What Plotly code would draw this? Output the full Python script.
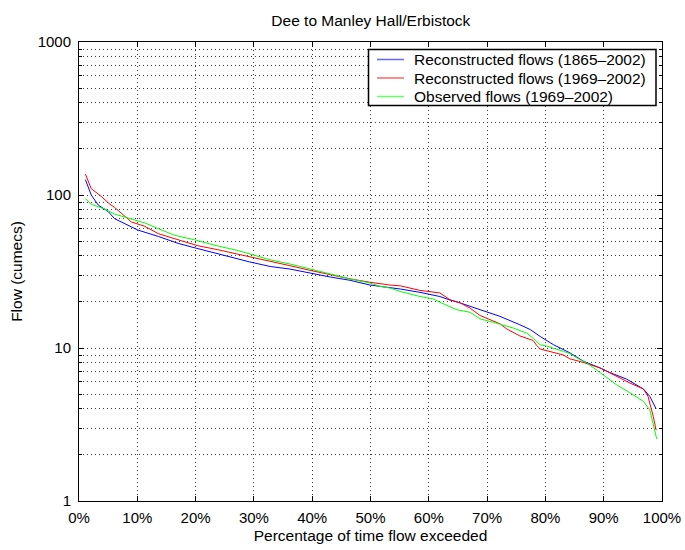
import plotly.graph_objects as go

# Flow duration curves, Dee to Manley Hall/Erbistock
pct_recon_long = [1.1, 2.1, 3.3, 5.0, 6.1, 8.4, 10.1, 13.6, 17.0, 20.4, 23.8, 27.3, 29.3, 32.8,
                  36.2, 39.6, 43.1, 46.5, 49.9, 51.6, 53.3, 55.1, 58.5, 61.9, 63.6, 65.4, 68.8,
                  72.2, 75.6, 77.4, 79.1, 81.4, 84.2, 86.5, 89.4, 91.1, 93.9, 96.8, 97.9, 99.0]
flow_recon_long = [126, 100, 86, 78, 70, 63, 59, 53.6, 48.3, 44.6, 41.1, 38.2, 36.5, 34.1,
                   32.8, 30.9, 29.1, 27.7, 25.8, 25.3, 24.9, 24.3, 23.1, 21.7, 20.6, 19.7, 17.8,
                   16.1, 14.2, 13.2, 11.9, 10.5, 9.3, 8.2, 7.4, 6.9, 6.27, 5.4, 4.83, 4.0]

pct_recon_short = [1.1, 2.1, 3.8, 5.3, 6.1, 7.8, 9.0, 11.3, 13.6, 17.0, 20.4, 23.8, 27.3, 29.3,
                   32.8, 36.2, 39.6, 43.1, 46.5, 49.9, 51.6, 53.3, 55.1, 58.5, 61.9, 63.6, 65.4,
                   67.1, 68.8, 72.2, 73.4, 75.6, 77.9, 78.5, 79.1, 81.4, 83.1, 84.2, 86.5, 89.4,
                   92.2, 94.5, 96.8, 97.6, 98.5, 99.0]
flow_recon_short = [137, 110, 98, 87, 83, 72.5, 66.6, 62.4, 55.9, 51, 46.6, 43.9, 41.1, 39.3,
                    36.8, 34.5, 32.2, 30.1, 28.3, 26.9, 26.3, 25.8, 25.5, 23.8, 22.9, 20.7, 19.7,
                    18.2, 16.3, 14.4, 13.3, 12.0, 11.2, 10.4, 9.85, 9.35, 9.0, 8.5, 8.05, 7.4,
                    6.5, 5.9, 5.4, 4.83, 3.57, 2.9]

pct_observed = [1.1, 2.1, 4.4, 6.1, 8.4, 11.3, 13.6, 16.4, 19.8, 23.3, 27.3, 29.3, 32.8, 36.2,
                39.6, 43.1, 46.5, 49.9, 51.6, 53.3, 55.1, 58.5, 60.8, 61.9, 64.8, 67.1, 68.8,
                71.1, 74.5, 76.8, 78.0, 79.1, 80.2, 83.1, 84.2, 85.9, 87.1, 89.4, 92.2, 94.5,
                96.8, 97.9, 99.1]
flow_observed = [94.6, 87, 81, 75, 70.8, 65.6, 60.3, 54.5, 51, 46.9, 43.3, 41.3, 37.7, 35.4,
                 32.8, 30.5, 28.3, 26.6, 25.3, 24.7, 23.4, 21.7, 20.9, 19.9, 17.8, 17.1, 15.5,
                 14.7, 13.5, 12.5, 11.5, 10.5, 10.3, 9.5, 9.2, 8.4, 8.0, 6.9, 5.75, 5.1,
                 4.48, 3.95, 2.54]

series_names = ["Reconstructed flows (1865\u20132002)",
                "Reconstructed flows (1969\u20132002)",
                "Observed flows (1969\u20132002)"]
series_colors = ["#0000ff", "#ff0000", "#00ff00"]

x_ticks = [0, 10, 20, 30, 40, 50, 60, 70, 80, 90, 100]
x_labels = [f"{v}%" for v in x_ticks]
y_major = [1, 10, 100, 1000]
y_minor = [m * d for d in (1, 10, 100) for m in range(2, 10)]

FONT = "Liberation Sans, Arial, Helvetica, sans-serif"
GRID = dict(gridcolor="#3a3a3a", griddash="1px,3px", gridwidth=1)

W, H = 685, 550
M_L, M_R, M_T, M_B = 79, 23, 42, 49
PW, PH = W - M_L - M_R, H - M_T - M_B


def px_to_paper(px, py):
    """Pixel position in the page -> paper coordinates of the plot area."""
    return (px - M_L) / PW, (H - M_B - py) / PH


fig = go.Figure()
for xs, ys, name, col in zip(
        [pct_recon_long, pct_recon_short, pct_observed],
        [flow_recon_long, flow_recon_short, flow_observed],
        series_names, series_colors):
    fig.add_trace(go.Scatter(x=xs, y=ys, mode="lines", name=name, showlegend=False,
                             line=dict(color=col, width=1)))

axis_common = dict(showline=True, linecolor="black", linewidth=1, mirror="allticks",
                   ticks="inside", tickcolor="black", ticklen=5, zeroline=False,
                   showgrid=True, automargin=False, **GRID,
                   tickfont=dict(size=15, color="black", family=FONT))

fig.update_xaxes(range=[0, 100], tickvals=x_ticks, ticktext=x_labels, ticklabelstandoff=3,
                 title=dict(text="Percentage of time flow exceeded", standoff=5,
                            font=dict(size=15.5, color="black", family=FONT)),
                 **axis_common)
fig.update_yaxes(type="log", range=[0, 3], tickvals=y_major,
                 ticktext=[str(v) for v in y_major], ticklabelstandoff=4,
                 minor=dict(tickvals=y_minor, ticks="inside", ticklen=3, tickcolor="black",
                            showgrid=True, **GRID),
                 title=dict(text="Flow (cumecs)", standoff=11,
                            font=dict(size=15.5, color="black", family=FONT)),
                 **axis_common)

# Legend box with line samples, top-right inside the axes
bx0, by0 = px_to_paper(368.5, 49.5)
bx1, by1 = px_to_paper(656, 105.5)
fig.add_shape(type="rect", xref="paper", yref="paper", x0=bx0, y0=by1, x1=bx1, y1=by0,
              line=dict(color="black", width=1.5), fillcolor="white", layer="above")
row_y = [59.5, 78, 96.5]
for name, col, ry in zip(series_names, series_colors, row_y):
    lx0, ly = px_to_paper(377, ry)
    lx1, _ = px_to_paper(404, ry)
    tx, _ = px_to_paper(412, ry)
    fig.add_shape(type="line", xref="paper", yref="paper", x0=lx0, x1=lx1, y0=ly, y1=ly,
                  line=dict(color=col, width=1.5), opacity=0.6, layer="above")
    fig.add_annotation(xref="paper", yref="paper", x=tx, y=ly, text=name, showarrow=False,
                       xanchor="left", yanchor="middle",
                       font=dict(size=15.5, color="black", family=FONT))

fig.update_layout(
    width=W, height=H,
    margin=dict(l=M_L, r=M_R, t=M_T, b=M_B),
    paper_bgcolor="white", plot_bgcolor="white",
    font=dict(family=FONT, color="black", size=15),
    title=dict(text="Dee to Manley Hall/Erbistock", x=0.5414, xanchor="center",
               y=0.962, yanchor="middle", font=dict(size=15.5, color="black", family=FONT)),
    showlegend=False,
)

fig.write_html("out.html")
